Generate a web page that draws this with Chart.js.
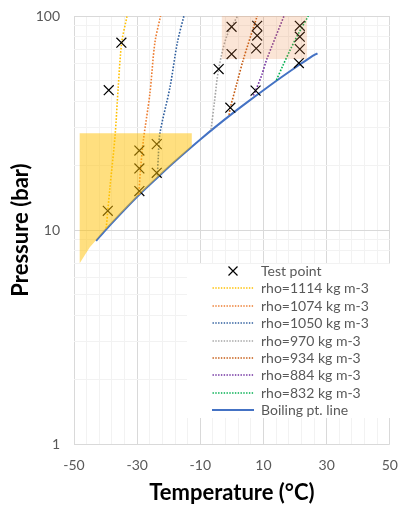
<!DOCTYPE html>
<html>
<head>
<meta charset="utf-8">
<script src="https://cdn.jsdelivr.net/npm/chart.js@4/dist/chart.umd.min.js"></script>
<style>
  html, body { margin: 0; padding: 0; background: #fff; }
  #wrap { position: relative; width: 398px; height: 506px; }
  #legend {
    position: absolute; left: 187px; top: 264px; width: 203px; height: 154px;
    background: #fff; font-family: Lato, "Open Sans", sans-serif; font-size: 14px; color: #595959;
  }
  .row { position: absolute; left: 0; width: 203px; height: 18px; line-height: 18px; white-space: nowrap; }
  .row svg { position: absolute; left: 25px; top: 3px; }
  .row span { position: absolute; left: 74px; }
</style>
</head>
<body>
<div id="wrap">
  <canvas id="chart" width="398" height="506"></canvas>
  <div id="legend"></div>
</div>
<script>
// Test points (temperature degC, pressure bar)
var testT = [-35, -39, -39.3, -29.3, -29.3, -29.3, -23.8, -23.8, -4.2, -0.5, -0.1, -0.1, 8.0, 8.0, 7.7, 7.5, 21.5, 21.5, 21.5, 21.2];
var testP = [75, 45, 12.3, 23.5, 19.4, 15.2, 25.2, 18.5, 56.5, 37.3, 89, 66.4, 90, 81, 70.6, 44.8, 90, 80, 70, 60.3];

// Isochores
var rho1114T = [-39.8, -39.3, -38.6, -37.0, -36.0, -34.9, -33.2];
var rho1114P = [10.2, 12.3, 15.9, 27.5, 46.5, 75, 100];
var rho1074T = [-29.5, -28.9, -28.0, -26.0, -24.4, -22.6];
var rho1074P = [14.6, 19.5, 26.5, 43, 74.8, 100];
var rho1050T = [-23.6, -23.3, -22.8, -19.6, -17.3, -15.2];
var rho1050P = [18.0, 22, 28.3, 46.5, 74.8, 100];
var rho970T = [-6.6, -5.5, -4.2, -1.7, 1.8];
var rho970P = [29.5, 40, 56.5, 80, 100];
var rho934T = [-0.9, -0.5, 1.5, 3.6, 8.0];
var rho934P = [34.5, 37.3, 48, 62.5, 100];
var rho884T = [6.8, 7.5, 9.4, 11.0, 16.5];
var rho884P = [42.5, 44.8, 52.7, 62.5, 100];
var rho832T = [14.1, 16.0, 18.4, 21.3, 24.2];
var rho832P = [50.2, 58, 69.2, 84, 100];

// Boiling (saturation) line
var boilT = [-43, -40, -35, -30, -25, -20, -15, -10, -5, 0, 5, 10, 15, 20, 25, 27.1];
var boilP = [8.9, 10.0, 12.0, 14.3, 16.8, 19.7, 22.9, 26.5, 30.5, 34.9, 39.7, 45.0, 50.9, 57.3, 64.3, 66.9];

// Shaded regions (polygon vertices)
var yellowT = [-48.2, -12.7, -12.7, -15, -20, -25, -30, -35, -40, -45, -48.2, -48.2];
var yellowP = [28.3, 28.3, 24.6, 22.9, 19.7, 16.8, 14.3, 12.0, 10.05, 8.3, 7.0, 28.3];
var peachT = [-3.2, 23.8, 23.8, -3.2, -3.2];
var peachP = [63, 63, 100, 100, 63];

var rhoLabels = ['rho=1114 kg m-3', 'rho=1074 kg m-3', 'rho=1050 kg m-3', 'rho=970 kg m-3',
                 'rho=934 kg m-3', 'rho=884 kg m-3', 'rho=832 kg m-3'];
var rhoColors = ['#FFC000', '#ED7D31', '#2E5E9E', '#A5A5A5', '#C55A11', '#7030A0', '#00B050'];
var rhoT = [rho1114T, rho1074T, rho1050T, rho970T, rho934T, rho884T, rho832T];
var rhoP = [rho1114P, rho1074P, rho1050P, rho970P, rho934P, rho884P, rho832P];

var xTickLabels = [-50, -30, -10, 10, 30, 50];
var yTickLabels = [1, 10, 100];

function pts(T, P) {
  return T.map(function(t, i) { return { x: t, y: P[i] }; });
}

var FONT = 'Lato, "Open Sans", sans-serif';

var datasets = [{
  label: 'Test point',
  data: pts(testT, testP),
  showLine: false,
  pointStyle: 'crossRot',
  pointRadius: 7,
  borderColor: '#000',
  borderWidth: 1.2
}];

rhoLabels.forEach(function(lab, i) {
  datasets.push({
    label: lab,
    data: pts(rhoT[i], rhoP[i]),
    showLine: true,
    borderColor: rhoColors[i],
    borderWidth: 1.6,
    borderDash: [1.6, 1.6],
    pointRadius: 0,
    tension: 0.3,
    fill: false
  });
});

datasets.push({
  label: 'Boiling pt. line',
  data: pts(boilT, boilP),
  showLine: true,
  borderColor: '#4472C4',
  borderWidth: 2,
  pointRadius: 0,
  tension: 0.3,
  fill: false
});

// shading drawn over everything (lowest order is drawn last)
datasets.push({
  label: 'yellow',
  data: pts(yellowT, yellowP),
  showLine: true,
  borderWidth: 0,
  borderColor: 'rgba(0,0,0,0)',
  backgroundColor: 'rgba(255,192,0,0.5)',
  pointRadius: 0,
  fill: 'shape',
  order: -1
});
datasets.push({
  label: 'peach',
  data: pts(peachT, peachP),
  showLine: true,
  borderWidth: 0,
  borderColor: 'rgba(0,0,0,0)',
  backgroundColor: 'rgba(237,125,49,0.2)',
  pointRadius: 0,
  fill: 'shape',
  order: -1
});

var xTicks = [];
for (var v = -50; v <= 50; v += 4) xTicks.push(v);
var yTicks = [];
[1, 10].forEach(function(d) { for (var k = 1; k <= 9; k++) yTicks.push(k * d); });
yTicks.push(100);

function gridColor(labels) {
  return function(ctx) {
    if (!ctx.tick) return '#F2F2F2';
    return labels.indexOf(ctx.tick.value) >= 0 ? '#D9D9D9' : '#F2F2F2';
  };
}

new Chart(document.getElementById('chart'), {
  type: 'scatter',
  data: { datasets: datasets },
  options: {
    responsive: false,
    animation: false,
    layout: { padding: { left: 0, right: 8, top: 16, bottom: 0 } },
    plugins: { legend: { display: false }, tooltip: { enabled: false } },
    scales: {
      x: {
        type: 'linear',
        min: -50, max: 50,
        afterBuildTicks: function(s) { s.ticks = xTicks.map(function(t) { return { value: t }; }); },
        afterFit: function(s) { s.height = 62; s.paddingLeft = 0; s.paddingRight = 0; },
        ticks: {
          autoSkip: false, maxRotation: 0, padding: 13,
          font: { family: FONT, size: 14 }, color: '#595959',
          callback: function(val) { return xTickLabels.indexOf(val) >= 0 ? String(val) : ''; }
        },
        grid: { color: gridColor(xTickLabels), drawTicks: false },
        border: { display: false },
        title: {
          display: true, text: 'Temperature (°C)',
          font: { family: FONT, size: 22, weight: 'bold' }, color: '#000',
          padding: { top: 0, bottom: 0 }
        }
      },
      y: {
        type: 'logarithmic',
        min: 1, max: 100,
        afterBuildTicks: function(s) { s.ticks = yTicks.map(function(t) { return { value: t }; }); },
        afterFit: function(s) { s.width = 74; s.paddingTop = 0; s.paddingBottom = 0; },
        ticks: {
          autoSkip: false, padding: 14,
          font: { family: FONT, size: 14 }, color: '#595959',
          callback: function(val) { return yTickLabels.indexOf(val) >= 0 ? String(val) : ''; }
        },
        grid: { color: gridColor(yTickLabels), drawTicks: false },
        border: { display: false },
        title: {
          display: true, text: 'Pressure (bar)',
          font: { family: FONT, size: 22, weight: 'bold' }, color: '#000',
          padding: { top: 8, bottom: 0 }
        }
      }
    }
  }
});

// Legend (inside the plot area)
var legend = document.getElementById('legend');
var items = [{ label: 'Test point', marker: true }];
rhoLabels.forEach(function(l, i) { items.push({ label: l, color: rhoColors[i], dotted: true }); });
items.push({ label: 'Boiling pt. line', color: '#4472C4', dotted: false });
items.forEach(function(it, i) {
  var row = document.createElement('div');
  row.className = 'row';
  row.style.top = (-2 + i * 17.4) + 'px';
  var svg;
  if (it.marker) {
    svg = '<svg width="42" height="12"><path d="M16.5 1.5 L25.5 10.5 M25.5 1.5 L16.5 10.5" stroke="#000" stroke-width="1.2"/></svg>';
  } else if (it.dotted) {
    svg = '<svg width="42" height="12"><line x1="0.5" y1="6" x2="41.5" y2="6" stroke="' + it.color + '" stroke-width="1.4" stroke-dasharray="1.4,1.4"/></svg>';
  } else {
    svg = '<svg width="42" height="12"><line x1="0" y1="6" x2="42" y2="6" stroke="' + it.color + '" stroke-width="2"/></svg>';
  }
  row.innerHTML = svg + '<span>' + it.label + '</span>';
  legend.appendChild(row);
});
</script>
</body>
</html>
